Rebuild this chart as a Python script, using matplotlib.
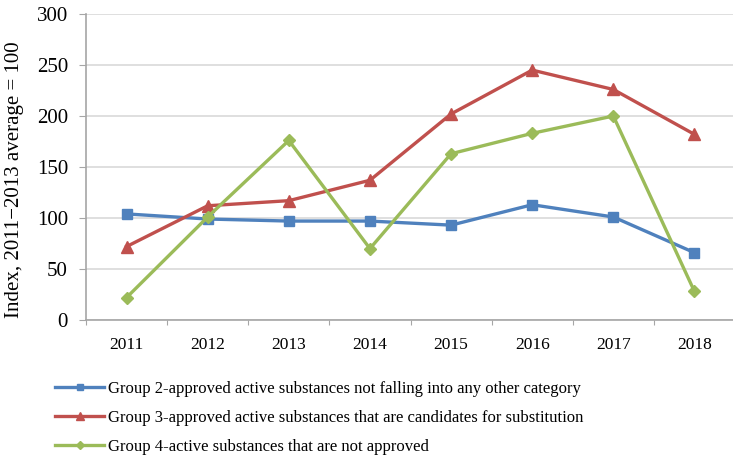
import matplotlib
matplotlib.use("Agg")
import matplotlib.pyplot as plt
import numpy as np

plt.rcParams['font.family'] = ['Liberation Serif', 'DejaVu Serif']

years = ["2011", "2012", "2013", "2014", "2015", "2016", "2017", "2018"]
group2 = [104, 99, 97, 97, 93, 113, 101, 66]
group3 = [72, 112, 117, 137, 202, 245, 226, 182]
group4 = [22, 101, 176, 70, 163, 183, 200, 28]

labels = [
    "Group 2-approved active substances not falling into any other category",
    "Group 3-approved active substances that are candidates for substitution",
    "Group 4-active substances that are not approved",
]
colors = ["#4F81BD", "#C0504D", "#9BBB59"]
markers = ["s", "^", "D"]
msizes = [6.8, 8, 5.8]
legend_msizes = [5, 5.5, 4.2]

fig = plt.figure(figsize=(7.33, 4.61), dpi=100)
ax = fig.add_axes([86 / 733, 1 - 320 / 461, 649 / 733, 306 / 461])

x = np.arange(len(years))
for vals, lab, c, m, ms in zip([group2, group3, group4], labels, colors, markers, msizes):
    ax.plot(x, vals, color=c, lw=2.4, marker=m, markersize=ms,
            markerfacecolor=c, markeredgecolor=c, label=lab, zorder=3)

ax.set_xlim(-0.5, len(years) - 0.5)
ax.set_ylim(0, 300)
ax.set_yticks(np.arange(0, 301, 50))
ax.tick_params(axis='y', labelsize=15, length=5, color='#A6A6A6', pad=8)
ax.yaxis.grid(True, color='#D9D9D9', lw=1.2)
ax.set_axisbelow(True)

# category boundaries get the tick marks, centres carry the labels
ax.set_xticks(np.arange(-0.5, len(years), 1.0))
ax.set_xticklabels([])
ax.tick_params(axis='x', which='major', length=3.6, color='#A6A6A6', direction='out')
ax.set_xticks(x, minor=True)
ax.set_xticklabels(years, minor=True)
ax.tick_params(axis='x', which='minor', length=0, labelsize=12.5, pad=12)

for side in ['top', 'right']:
    ax.spines[side].set_visible(False)
for side in ['left', 'bottom']:
    ax.spines[side].set_color('#A6A6A6')
    ax.spines[side].set_linewidth(1.2)

ax.set_ylabel("Index, 2011\u22122013 average = 100", fontsize=15)
ax.yaxis.set_label_coords(-0.0955, 0.4575)

leg = fig.legend(loc='upper left', bbox_to_anchor=(55 / 733, 1 - 381 / 461),
                 frameon=False, fontsize=12, handlelength=2.95, handletextpad=0.25,
                 labelspacing=0.78, borderaxespad=0, borderpad=0)
for h, ms in zip(leg.legend_handles, legend_msizes):
    h.set_markersize(ms)

fig.savefig("out.png", dpi=100)
